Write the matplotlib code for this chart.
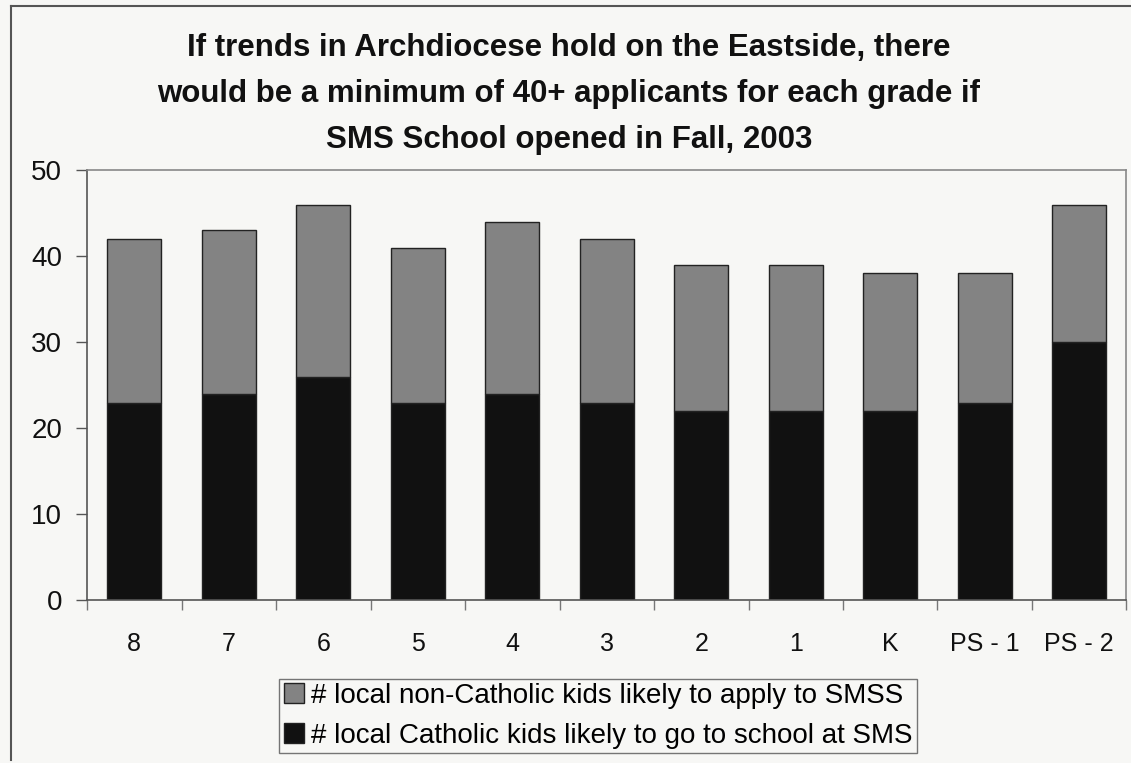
import matplotlib.pyplot as plt
from matplotlib.lines import Line2D
import numpy as np

# ---------------- DATA ----------------
GRADES = ["8", "7", "6", "5", "4", "3", "2", "1", "K", "PS - 1", "PS - 2"]
CATHOLIC = [23, 24, 26, 23, 24, 23, 22, 22, 22, 23, 30]
NON_CATHOLIC = [19, 19, 20, 18, 20, 19, 17, 17, 16, 15, 16]

TITLE = ("If trends in Archdiocese hold on the Eastside, there\n"
         "would be a minimum of 40+ applicants for each grade if\n"
         "SMS School opened in Fall, 2003")
LABEL_NON = "# local non-Catholic kids likely to apply to SMSS"
LABEL_CATH = "# local Catholic kids likely to go to school at SMS"

# ---------------- STYLE ----------------
plt.rcParams["font.family"] = ["Liberation Sans", "DejaVu Sans"]
BG = "#f7f7f5"
GRAY = "#838383"
BLACK = "#111111"
EDGE = "#222222"

fig = plt.figure(figsize=(11.31, 7.63), dpi=100, facecolor=BG)
ax = fig.add_axes([0.077, 0.213, 0.919, 0.564], facecolor=BG)

x = np.arange(len(GRADES))
width = 0.57
ax.bar(x, CATHOLIC, width, color=BLACK, edgecolor=EDGE, linewidth=1.0,
       label=LABEL_CATH)
ax.bar(x, NON_CATHOLIC, width, bottom=CATHOLIC, color=GRAY, edgecolor=EDGE,
       linewidth=1.0, label=LABEL_NON)

ax.set_xlim(-0.5, len(GRADES) - 0.5)
ax.set_ylim(0, 50)
ax.set_yticks(range(0, 51, 10))
ax.tick_params(axis="y", labelsize=20, length=8, width=1, color="#555555",
               pad=10, labelcolor="#111111")

# category labels centred, tick marks between categories
ax.set_xticks(x)
ax.set_xticklabels(GRADES, fontsize=18, color="#111111")
ax.tick_params(axis="x", length=0, pad=23)
ax.set_xticks(np.arange(-0.5, len(GRADES), 1.0), minor=True)
ax.tick_params(axis="x", which="minor", length=7, width=1, color="#777777")

for side in ["left", "bottom"]:
    ax.spines[side].set_color("#555555")
    ax.spines[side].set_linewidth(1.2)
for side in ["top", "right"]:
    ax.spines[side].set_color("#888888")
    ax.spines[side].set_linewidth(1.2)

fig.text(0.503, 0.877, TITLE, ha="center", va="center", fontsize=22.5,
         fontweight="bold", linespacing=1.7, color="#111111")

handles = [
    plt.Rectangle((0, 0), 1, 1, facecolor=GRAY, edgecolor=EDGE),
    plt.Rectangle((0, 0), 1, 1, facecolor=BLACK, edgecolor=EDGE),
]
leg = fig.legend(handles, [LABEL_NON, LABEL_CATH], loc="center",
                 bbox_to_anchor=(0.529, 0.062), fontsize=20, frameon=True,
                 fancybox=False, handlelength=0.75, handleheight=0.75,
                 handletextpad=0.25, borderpad=0.15, labelspacing=0.5,
                 borderaxespad=0)
leg.get_frame().set_edgecolor("#555555")
leg.get_frame().set_facecolor(BG)
leg.get_frame().set_linewidth(1.0)

# outer frame of the scanned page (left and top edges)
fig.add_artist(Line2D([0.0097, 0.0097], [0.004, 0.992], color="#555555",
                      linewidth=1.5, transform=fig.transFigure))
fig.add_artist(Line2D([0.0097, 1.0], [0.992, 0.992], color="#555555",
                      linewidth=1.5, transform=fig.transFigure))

fig.savefig("out.png", dpi=100, facecolor=BG)
